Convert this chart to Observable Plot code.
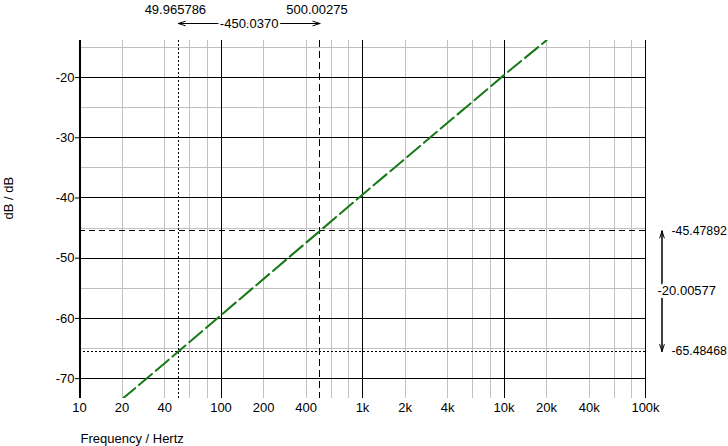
<!DOCTYPE html>
<html><head><meta charset="utf-8">
<script src="https://cdn.jsdelivr.net/npm/d3@7"></script>
<script src="https://cdn.jsdelivr.net/npm/@observablehq/plot@0.6"></script>
<style>body{margin:0;background:#fff;overflow:hidden} svg{font-family:"Liberation Sans",Arial,sans-serif;}</style>
</head><body><div id="chart"></div>
<script>
const freqs = [20, 40, 50, 100, 500, 1000, 10000, 20000];
const dbValues = [-73.4, -67.45, -65.48, -59.45, -45.48, -39.45, -19.6, -13.8];
const xTicks = [10, 20, 40, 100, 200, 400, 1000, 2000, 4000, 10000, 20000, 40000, 100000];
const xTickLabels = ["10", "20", "40", "100", "200", "400", "1k", "2k", "4k", "10k", "20k", "40k", "100k"];
const xMajor = [100, 1000, 10000, 100000];
const xMinor = [20, 40, 60, 80, 200, 400, 600, 800, 2000, 4000, 6000, 8000, 20000, 40000, 60000, 80000];
const yTicks = [-20, -30, -40, -50, -60, -70];
const yTickLabels = ["-20", "-30", "-40", "-50", "-60", "-70"];
const yMinor = [-15, -25, -35, -45, -55, -65];
const cursorFreqs = [49.965786, 500.00275];
const cursorFreqLabels = ["49.965786", "500.00275"];
const freqDiffLabel = "-450.0370";
const cursorDb = [-45.47892, -65.48468];
const cursorDbLabels = ["-45.47892", "-65.48468"];
const dbDiffLabel = "-20.00577";
const xDomain = [10, 100000];
const yDomain = [-73.3, -13.85];
const xLabel = "Frequency / Hertz";
const yLabel = "dB / dB";

const series = freqs.map((f, i) => ({f, db: dbValues[i]}));
const topY = yDomain[1];
const rightX = xDomain[1];
const crisp = {shapeRendering: "crispEdges"};
const yLabelOf = new Map(yTicks.map((t, i) => [t, yTickLabels[i]]));
const arrowStyle = {stroke: "#000", strokeWidth: 1, headLength: 11, headAngle: 36};

const chart = Plot.plot({
  width: 728, height: 446,
  marginLeft: 79, marginRight: 83, marginTop: 40, marginBottom: 48,
  style: {fontSize: "13px", fontFamily: "'Liberation Sans', Arial, sans-serif", color: "#000", background: "#fff"},
  x: {type: "log", domain: xDomain, axis: null},
  y: {domain: yDomain},
  marks: [
    Plot.ruleX(xMinor, {stroke: "#c0c0c0", strokeWidth: 1, ...crisp}),
    Plot.ruleY(yMinor, {stroke: "#c0c0c0", strokeWidth: 1, ...crisp}),
    Plot.ruleY(yTicks, {stroke: "#000", strokeWidth: 1, ...crisp}),
    Plot.ruleX(xMajor, {stroke: "#000", strokeWidth: 1, ...crisp}),
    Plot.ruleX([xDomain[0]], {stroke: "#000", strokeWidth: 2, ...crisp}),
    Plot.ruleY([cursorDb[0]], {stroke: "#000", strokeDasharray: "6,4", ...crisp}),
    Plot.ruleY([cursorDb[1]], {stroke: "#000", strokeDasharray: "2,2", ...crisp}),
    Plot.ruleX([cursorFreqs[0]], {stroke: "#000", strokeDasharray: "2,2", ...crisp}),
    Plot.ruleX([cursorFreqs[1]], {stroke: "#000", strokeDasharray: "7,4", ...crisp}),
    Plot.line(series, {x: "f", y: "db", stroke: "#167816", strokeWidth: 2, strokeDasharray: "17,5", clip: true}),
    // x tick labels
    Plot.text(xTicks, {x: d => d, text: (d, i) => xTickLabels[i], frameAnchor: "bottom", lineAnchor: "middle", dy: 9.5, fill: "#000"}),
    // y axis
    Plot.axisY(yTicks, {tickSize: 4, tickPadding: 1, tickFormat: d => yLabelOf.get(d), fill: "#000", stroke: "#000", label: null}),
    // top cursor labels
    Plot.text([cursorFreqLabels[0]], {x: cursorFreqs[0], frameAnchor: "top", textAnchor: "middle", lineAnchor: "middle", dy: -31, dx: -3, text: d => d, fill: "#000"}),
    Plot.text([cursorFreqLabels[1]], {x: cursorFreqs[1], frameAnchor: "top", textAnchor: "middle", lineAnchor: "middle", dy: -31, dx: -3, text: d => d, fill: "#000"}),
    Plot.arrow([{a: cursorFreqs[0], b: cursorFreqs[1], y: topY}], {x1: "a", x2: "b", y1: "y", y2: "y", dy: -17, ...arrowStyle}),
    Plot.arrow([{a: cursorFreqs[1], b: cursorFreqs[0], y: topY}], {x1: "a", x2: "b", y1: "y", y2: "y", dy: -17, ...arrowStyle}),
    Plot.text([freqDiffLabel], {x: Math.sqrt(cursorFreqs[0] * cursorFreqs[1]), frameAnchor: "top", lineAnchor: "middle", dy: -17, text: d => d, fill: "#000", stroke: "#fff", strokeWidth: 4}),
    // right cursor labels
    Plot.arrow([{x: rightX, a: cursorDb[0], b: cursorDb[1]}], {x1: "x", x2: "x", y1: "a", y2: "b", dx: 16.5, ...arrowStyle}),
    Plot.arrow([{x: rightX, a: cursorDb[1], b: cursorDb[0]}], {x1: "x", x2: "x", y1: "a", y2: "b", dx: 16.5, ...arrowStyle}),
    Plot.text(cursorDb, {y: d => d, text: (d, i) => cursorDbLabels[i], frameAnchor: "right", lineAnchor: "middle", dx: 26, textAnchor: "start", fontSize: 12.3, fill: "#000"}),
    Plot.text([dbDiffLabel], {y: (cursorDb[0] + cursorDb[1]) / 2, frameAnchor: "right", lineAnchor: "middle", dx: 12, textAnchor: "start", text: d => d, fill: "#000", stroke: "#fff", strokeWidth: 6}),
    // axis titles
    Plot.text([yLabel], {frameAnchor: "left", lineAnchor: "middle", rotate: -90, dx: -71, text: d => d, fill: "#000"}),
    Plot.text([xLabel], {frameAnchor: "bottom-left", lineAnchor: "middle", textAnchor: "start", dx: 1, dy: 40, text: d => d, fill: "#000"})
  ]
});
document.getElementById("chart").appendChild(chart);
</script>
</body></html>
